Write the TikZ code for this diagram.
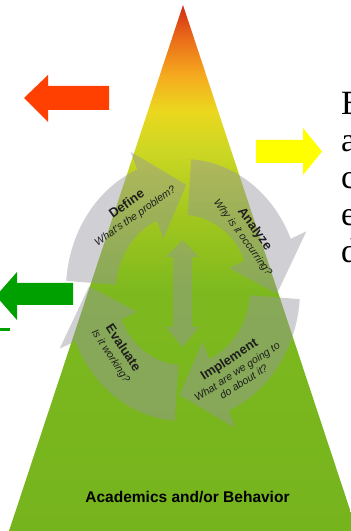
\documentclass[tikz,border=0pt]{standalone}
\usepackage{fontspec}
\setmainfont{Liberation Serif}
\setsansfont{Liberation Sans}
\definecolor{g0}{RGB}{118,180,30}
\definecolor{g1}{RGB}{125,185,30}
\definecolor{g2}{RGB}{165,200,30}
\definecolor{g3}{RGB}{205,215,35}
\definecolor{g4}{RGB}{235,215,30}
\definecolor{g5}{RGB}{245,170,30}
\definecolor{g6}{RGB}{235,110,25}
\definecolor{g7}{RGB}{210,45,20}
\definecolor{redarrow}{RGB}{255,64,0}
\definecolor{yelarrow}{RGB}{255,255,0}
\definecolor{grnarrow}{RGB}{0,160,0}
\definecolor{cycgray}{RGB}{150,150,160}
\definecolor{cyctext}{RGB}{30,30,30}
\pgfdeclareverticalshading{pyramid}{100bp}{color(0bp)=(g0); color(25bp)=(g0); color(47.9bp)=(g1); color(55.5bp)=(g2); color(61.2bp)=(g3); color(65bp)=(g4); color(68.3bp)=(g5); color(71.7bp)=(g6); color(75bp)=(g7); color(100bp)=(g7)}
\tikzset{
  cyc/.style={fill=cycgray, fill opacity=0.45},
  cyclabel/.style={align=center, text=cyctext, inner sep=0pt, font=\sffamily\itshape\fontsize{10.5}{12}\selectfont},
  sidetext/.style={anchor=base west, inner sep=0pt, font=\fontsize{34}{37}\selectfont}
}
\newcommand{\cyct}[1]{{\fontsize{13}{14}\selectfont\bfseries\upshape #1}}
\begin{document}
\begin{tikzpicture}[x=1pt,y=1pt]
\useasboundingbox (0,0) rectangle (351,531);
\clip (0,0) rectangle (351,531);
\fill[white] (0,0) rectangle (351,531);
% pyramid
\shade[shading=pyramid] (183,526) -- (357,0) -- (9,0) -- cycle;
% side arrows
\fill[redarrow] (109,445) -- (48,445) -- (48,456) -- (24,433) -- (48,409) -- (48,421) -- (109,421) -- cycle;
\fill[yelarrow] (256,391) -- (303,391) -- (303,403) -- (322,379.5) -- (303,356) -- (303,368) -- (256,368) -- cycle;
\fill[grnarrow] (73,248) -- (17,248) -- (17,259) -- (-4,235) -- (17,211) -- (17,226) -- (73,226) -- cycle;
\fill[grnarrow] (0,199.5) rectangle (10,202.5);
% cycle arrows
\begin{scope}[shift={(183,241)}, yscale=1.12]
\foreach \e in {88,-2,-92,178}{
  \fill[cyc] ({\e+88}:117) arc[start angle={\e+88}, end angle={\e+25}, radius=117]
    -- ({\e+25}:134) -- (\e:94) -- ({\e+25}:50) -- ({\e+25}:67)
    arc[start angle={\e+25}, end angle={\e+88}, radius=67] -- cycle;
}
\end{scope}
% double arrow
\fill[cyc] (182.5,291) -- (199,274) -- (192,274) -- (192,204) -- (199,204) -- (182.5,184) -- (166,204) -- (173,204) -- (173,274) -- (166,274) -- cycle;
% cycle labels
\node[cyclabel, rotate=35] (define) at (131,321) {\cyct{Define}\\[2pt]What's the problem?};
\node[cyclabel, rotate=-54] (analyze) at (249,298) {\cyct{Analyze}\\[2pt]Why is it occurring?};
\node[cyclabel, rotate=33] (implement) at (236,161) {\cyct{Implement}\\[2pt]What are we going to\\do about it?};
\node[cyclabel, rotate=-57] (evaluate) at (117,179) {\cyct{Evaluate}\\[2pt]Is it working?};
% base label
\node[text=black, inner sep=0pt, font=\sffamily\bfseries\fontsize{15.5}{18}\selectfont] (base) at (187.5,34) {Academics and/or Behavior};
% right text
\node[sidetext] (l1) at (341,416) {B};
\node[sidetext] (l2) at (341,379) {a};
\node[sidetext] (l3) at (341,342) {c};
\node[sidetext] (l4) at (341,305) {e};
\node[sidetext] (l5) at (341,268) {d};
\end{tikzpicture}
\end{document}
